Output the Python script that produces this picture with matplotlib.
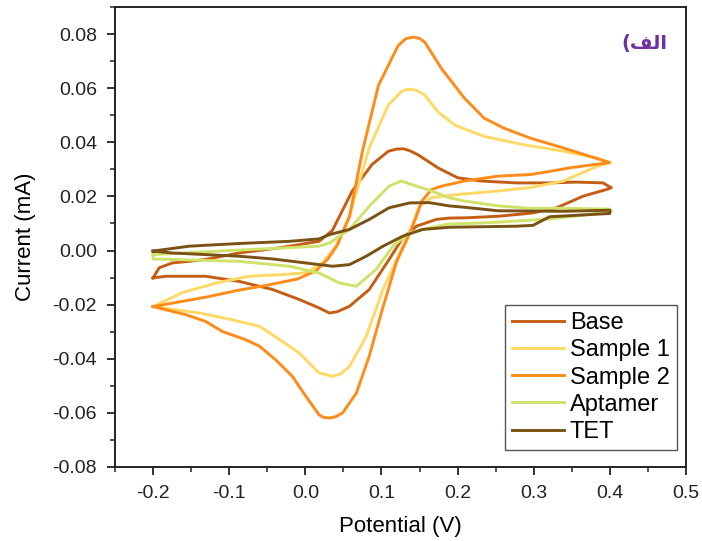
import matplotlib
matplotlib.use("Agg")
import matplotlib.pyplot as plt
from matplotlib.ticker import MultipleLocator

plt.rcParams['font.family'] = ['Liberation Sans', 'DejaVu Sans']

# potential (V) / current (mA), forward sweep then return sweep
base_v = [-0.2, -0.192, -0.175, -0.153, -0.131, -0.087, -0.034, 0.018, 0.0355, 0.0616, 0.0876, 0.109, 0.12, 0.129,
          0.138, 0.148, 0.174, 0.2, 0.231, 0.277, 0.321, 0.356, 0.391, 0.402,
          0.396, 0.365, 0.33, 0.299, 0.255, 0.211, 0.189, 0.172, 0.146, 0.128, 0.11, 0.084, 0.058, 0.042, 0.0316,
          0.018, -0.008, -0.043, -0.087, -0.131, -0.183, -0.2]
base_i = [-0.0101, -0.0064, -0.0046, -0.004, -0.0033, -0.0009, 0.001, 0.0034, 0.0074, 0.022, 0.0318, 0.0367, 0.0375, 0.0376,
          0.0368, 0.0354, 0.0306, 0.0269, 0.0257, 0.025, 0.025, 0.0253, 0.025, 0.0232,
          0.0226, 0.0201, 0.0158, 0.0139, 0.0127, 0.0121, 0.012, 0.0115, 0.009, 0.0047, -0.0033, -0.0144, -0.0206, -0.0226, -0.0231,
          -0.0212, -0.0181, -0.0144, -0.0114, -0.0095, -0.0095, -0.0101]

s1_v = [-0.2, -0.162, -0.117, -0.074, -0.03, 0.001, 0.023, 0.04, 0.058, 0.084, 0.109, 0.126, 0.133, 0.139, 0.147, 0.157,
        0.174, 0.196, 0.235, 0.287, 0.339, 0.383, 0.4,
        0.383, 0.339, 0.296, 0.253, 0.2, 0.166, 0.15, 0.14, 0.128, 0.102, 0.08, 0.058, 0.047, 0.036, 0.018,
        -0.008, -0.03, -0.06, -0.096, -0.139, -0.17, -0.2]
s1_i = [-0.0207, -0.0156, -0.012, -0.0095, -0.0089, -0.0082, -0.0045, 0.0016, 0.0127, 0.038, 0.0538, 0.0587, 0.0595, 0.0596, 0.0591, 0.0574,
        0.0513, 0.0464, 0.0422, 0.0391, 0.0367, 0.0342, 0.0325,
        0.0311, 0.0257, 0.0233, 0.022, 0.0207, 0.0196, 0.0165, 0.009, 0.0015, -0.0144, -0.0317, -0.0428, -0.0455, -0.0465, -0.0452,
        -0.0379, -0.0336, -0.028, -0.0256, -0.0231, -0.0219, -0.0207]

s2_v = [-0.2, -0.17, -0.13, -0.09, -0.05, -0.01, 0.014, 0.03, 0.042, 0.058, 0.075, 0.096, 0.122, 0.132, 0.142, 0.15, 0.157,
        0.179, 0.209, 0.235, 0.261, 0.296, 0.339, 0.374, 0.4,
        0.383, 0.348, 0.322, 0.296, 0.253, 0.209, 0.179, 0.166, 0.153, 0.145, 0.135, 0.12, 0.101, 0.084, 0.067,
        0.049, 0.04, 0.032, 0.024, 0.018, 0.001, -0.017, -0.039, -0.06, -0.078, -0.109, -0.131, -0.157, -0.183, -0.2]
s2_i = [-0.0207, -0.0192, -0.0172, -0.0148, -0.0128, -0.0105, -0.0075, -0.003, 0.002, 0.0126, 0.0367, 0.061, 0.0758, 0.0783, 0.0789, 0.0784, 0.077,
        0.0672, 0.0563, 0.0489, 0.0452, 0.0415, 0.0379, 0.0348, 0.0325,
        0.0319, 0.0306, 0.0293, 0.0281, 0.0275, 0.0257, 0.0238, 0.0226, 0.0183, 0.012, 0.005, -0.004, -0.0219, -0.039, -0.0527,
        -0.06, -0.0614, -0.0619, -0.0617, -0.0607, -0.054, -0.0465, -0.0404, -0.0354, -0.033, -0.0299, -0.0262, -0.0237, -0.0219, -0.0207]

apt_v = [-0.2, -0.1, 0.018, 0.032, 0.058, 0.084, 0.11, 0.126, 0.146, 0.166, 0.189, 0.209, 0.253, 0.296, 0.339, 0.4,
         0.402, 0.365, 0.321, 0.277, 0.233, 0.189, 0.163, 0.137, 0.115, 0.093, 0.067, 0.045, 0.018, -0.021, -0.087,
         -0.2, -0.2]
apt_i = [-0.0015, 0.0, 0.0016, 0.0028, 0.0078, 0.0164, 0.0238, 0.0257, 0.0238, 0.022, 0.0195, 0.0183, 0.0165, 0.0156, 0.0156, 0.0153,
         0.0146, 0.013, 0.0117, 0.0109, 0.0102, 0.0098, 0.0084, 0.0065, 0.0016, -0.007, -0.0132, -0.012, -0.0083, -0.0058, -0.004,
         -0.0031, -0.0015]

tet_v = [-0.2, -0.153, -0.087, -0.021, 0.018, 0.032, 0.058, 0.084, 0.11, 0.137, 0.163, 0.189, 0.209, 0.253, 0.339, 0.4,
         0.4, 0.321, 0.299, 0.277, 0.233, 0.189, 0.154, 0.128, 0.102, 0.08, 0.058, 0.036, 0.018, -0.008, -0.043,
         -0.087, -0.131, -0.175, -0.2]
tet_i = [-0.0002, 0.0016, 0.0026, 0.0034, 0.0043, 0.0059, 0.0078, 0.0115, 0.0158, 0.0176, 0.0177, 0.0165, 0.016, 0.0147, 0.0145, 0.0149,
         0.0137, 0.0125, 0.0093, 0.009, 0.0088, 0.0086, 0.0078, 0.0053, 0.0016, -0.0021, -0.0052, -0.0058, -0.0052, -0.0043, -0.0031,
         -0.0021, -0.0015, -0.0009, -0.0002]

series = [("Base", base_v, base_i, "#C55E14"),
          ("Sample 1", s1_v, s1_i, "#FFD966"),
          ("Sample 2", s2_v, s2_i, "#FF8C1A"),
          ("Aptamer", apt_v, apt_i, "#CFE26A"),
          ("TET", tet_v, tet_i, "#7A5215")]

fig = plt.figure(figsize=(7.02, 5.41), dpi=100)
ax = fig.add_axes([0.1638, 0.1368, 0.8134, 0.8502])

for name, v, i, col in series:
    ax.plot(v, i, color=col, lw=2.1, label=name, solid_joinstyle="round")

ax.set_xlim(-0.25, 0.5)
ax.set_ylim(-0.08, 0.09)
ax.xaxis.set_minor_locator(MultipleLocator(0.05))
ax.yaxis.set_minor_locator(MultipleLocator(0.01))
ax.set_yticks([-0.08, -0.06, -0.04, -0.02, 0.0, 0.02, 0.04, 0.06, 0.08])
ax.set_xticks([-0.2, -0.1, 0.0, 0.1, 0.2, 0.3, 0.4, 0.5])
ax.set_xticklabels(["-0.2", "-0.1", "0.0", "0.1", "0.2", "0.3", "0.4", "0.5"])
ax.set_yticklabels(["-0.08", "-0.06", "-0.04", "-0.02", "0.00", "0.02", "0.04", "0.06", "0.08"])
ax.tick_params(which="major", direction="out", length=6, width=1.3, labelsize=14, colors="#222222", pad=7)
ax.tick_params(which="minor", direction="out", length=3.5, width=1.1, colors="#222222")
for s in ax.spines.values():
    s.set_linewidth(1.4)
    s.set_color("#222222")

ax.set_xlabel("Potential (V)", fontsize=16, labelpad=10)
ax.set_ylabel("Current (mA)", fontsize=16, labelpad=12)

leg = ax.legend(loc="lower right", bbox_to_anchor=(0.984, 0.037), fontsize=17, fancybox=False,
                edgecolor="#555555", framealpha=1, handlelength=2.2, handletextpad=0.25,
                labelspacing=0.22, borderpad=0.3, borderaxespad=0)
leg.get_frame().set_linewidth(1.0)

# Arabic label written in visual order with presentation forms
ax.text(0.927, 0.92, "(\uFED2\uFEDF\uFE8D", transform=ax.transAxes, ha="center", va="center",
        fontsize=14, fontweight="bold", color="#7030A0", family=["DejaVu Sans"])

fig.savefig("out.png", dpi=100)
